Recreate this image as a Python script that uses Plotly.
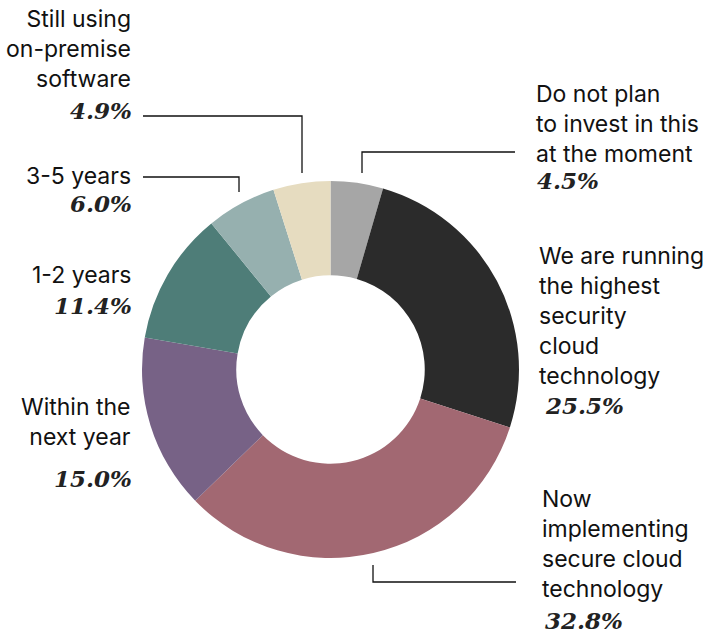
import plotly.graph_objects as go

W, H = 719, 634

categories = [
    "Do not plan to invest in this at the moment",
    "We are running the highest security cloud technology",
    "Now implementing secure cloud technology",
    "Within the next year",
    "1-2 years",
    "3-5 years",
    "Still using on-premise software",
]
values = [4.5, 25.5, 32.8, 15.0, 11.4, 6.0, 4.9]
colors = ["#a6a6a6", "#2b2b2b", "#a26872", "#776286", "#4e7d78", "#96b0af", "#e6dcc0"]

# label text lines (as displayed)
label_lines = [
    ["Do not plan", "to invest in this", "at the moment"],
    ["We are running", "the highest", "security", "cloud", "technology"],
    ["Now", "implementing", "secure cloud", "technology"],
    ["Within the", "next year"],
    ["1-2 years"],
    ["3-5 years"],
    ["Still using", "on-premise", "software"],
]

# layout (pixel positions): label block anchor x, block centre y, side, pct centre y, pct x
label_layout = [
    (534, 124, "left", 180, 535),
    (537, 315.5, "left", 405, 543),
    (540, 544, "left", 620, 543),
    (133, 422, "right", 478, 134),
    (133, 275, "right", 305, 134),
    (133, 176, "right", 203, 134),
    (133, 49, "right", 110, 134),
]

# leader lines in pixels: list of polylines
leaders = [
    [(515, 152), (362, 152), (362, 173)],
    [(516, 582), (373, 582), (373, 565)],
    [(143, 177), (239, 177), (239, 192)],
    [(143, 116), (302, 116), (302, 173)],
]


def px(x):
    return x / W


def py(y):
    return 1 - y / H


cx, cy, r = 330.5, 369.5, 188.5

fig = go.Figure(
    go.Pie(
        labels=categories,
        values=values,
        marker=dict(colors=colors, line=dict(width=0)),
        hole=0.5,
        sort=False,
        direction="clockwise",
        rotation=0,
        textinfo="none",
        hoverinfo="label+percent",
        domain=dict(x=[px(cx - r), px(cx + r)], y=[py(cy + r), py(cy - r)]),
        showlegend=False,
    )
)

annotations = []
for lines, v, (lx, ly, side, pyc, pxx) in zip(label_lines, values, label_layout):
    annotations.append(
        dict(
            x=px(lx), y=py(ly), xref="paper", yref="paper",
            text="<br>".join(lines), showarrow=False,
            xanchor=side, yanchor="middle", align=side,
            font=dict(family="Inter, Roboto, sans-serif", size=23, color="#111111"),
        )
    )
    annotations.append(
        dict(
            x=px(pxx), y=py(pyc), xref="paper", yref="paper",
            text=f"<b><i>{v:.1f}%</i></b>", showarrow=False,
            xanchor=side, yanchor="middle", align=side,
            font=dict(family="DejaVu Serif, serif", size=23, color="#222222"),
        )
    )

shapes = []
for pts in leaders:
    path = "M " + " L ".join(f"{px(x):.5f},{py(y):.5f}" for x, y in pts)
    shapes.append(dict(type="path", xref="paper", yref="paper", path=path,
                       line=dict(color="#111111", width=1.3)))

fig.update_layout(
    width=W, height=H,
    margin=dict(l=0, r=0, t=0, b=0),
    paper_bgcolor="white", plot_bgcolor="white",
    annotations=annotations, shapes=shapes,
)

fig.write_html(
    "out.html",
    config={"displayModeBar": False},
    post_script="document.body.style.margin='0';document.body.style.overflow='hidden';",
)
